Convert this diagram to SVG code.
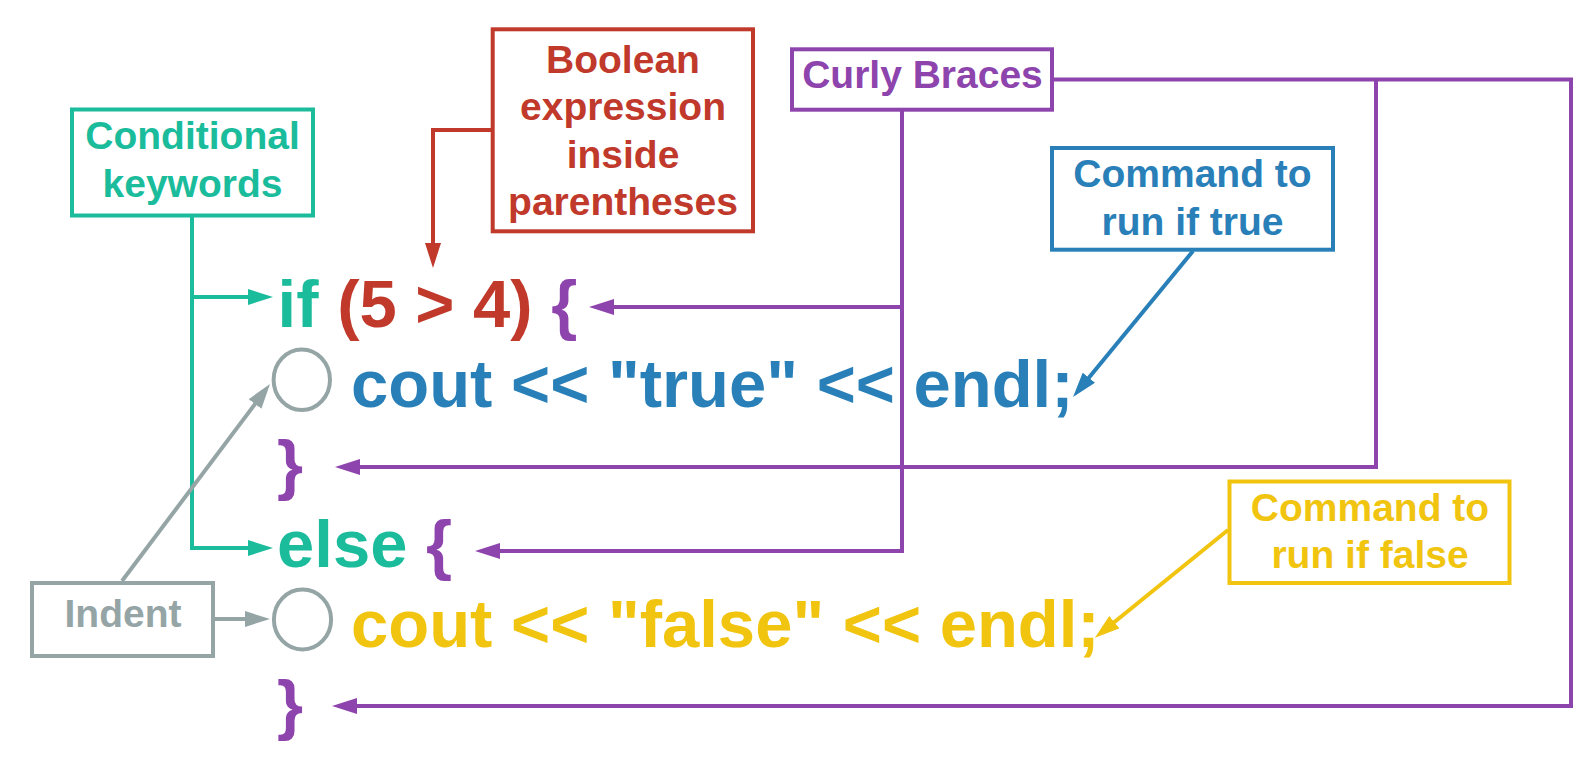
<svg xmlns="http://www.w3.org/2000/svg" width="1596" height="777" viewBox="0 0 1596 777">
<style>
.box{fill:#fff;stroke-width:4}
.lbl{font-family:"Liberation Sans",Arial,sans-serif;font-weight:bold;font-size:39px;text-anchor:middle}
.code{font-family:"Liberation Sans",Arial,sans-serif;font-weight:bold;font-size:67px}
.con{fill:none;stroke-width:4}
.ind{fill:none;stroke:#95a5a6;stroke-width:4}
.green{fill:#1abc9c}.red{fill:#c0392b}.purple{fill:#8e44ad}.blue{fill:#2980b9}.yellow{fill:#f1c40f}.gray{fill:#95a5a6}
</style>
<defs>
<marker id="ah-green" viewBox="0 0 25 16" refX="3" refY="8" markerWidth="25" markerHeight="16" markerUnits="userSpaceOnUse" orient="auto"><path d="M0,0 L25,8 L0,16 z" fill="#1abc9c"/></marker>
<marker id="ah-red" viewBox="0 0 25 16" refX="3" refY="8" markerWidth="25" markerHeight="16" markerUnits="userSpaceOnUse" orient="auto"><path d="M0,0 L25,8 L0,16 z" fill="#c0392b"/></marker>
<marker id="ah-purple" viewBox="0 0 25 16" refX="3" refY="8" markerWidth="25" markerHeight="16" markerUnits="userSpaceOnUse" orient="auto"><path d="M0,0 L25,8 L0,16 z" fill="#8e44ad"/></marker>
<marker id="ah-blue" viewBox="0 0 25 16" refX="3" refY="8" markerWidth="25" markerHeight="16" markerUnits="userSpaceOnUse" orient="auto"><path d="M0,0 L25,8 L0,16 z" fill="#2980b9"/></marker>
<marker id="ah-yellow" viewBox="0 0 25 16" refX="3" refY="8" markerWidth="25" markerHeight="16" markerUnits="userSpaceOnUse" orient="auto"><path d="M0,0 L25,8 L0,16 z" fill="#f1c40f"/></marker>
<marker id="ah-gray" viewBox="0 0 25 16" refX="3" refY="8" markerWidth="25" markerHeight="16" markerUnits="userSpaceOnUse" orient="auto"><path d="M0,0 L25,8 L0,16 z" fill="#95a5a6"/></marker>
</defs>
<rect width="1596" height="777" fill="#fff"/>

<g id="connectors">
<path class="con" stroke="#1abc9c" d="M192,217 V548 H251" marker-end="url(#ah-green)"/>
<path class="con" stroke="#1abc9c" d="M192,297 H251" marker-end="url(#ah-green)"/>
<path class="con" stroke="#c0392b" d="M493,130 H433 V246" marker-end="url(#ah-red)"/>
<path class="con" stroke="#8e44ad" d="M902,110 V551 H497" marker-end="url(#ah-purple)"/>
<path class="con" stroke="#8e44ad" d="M902,307 H611" marker-end="url(#ah-purple)"/>
<path class="con" stroke="#8e44ad" d="M1052,79.5 H1571 V706 H354" marker-end="url(#ah-purple)"/>
<path class="con" stroke="#8e44ad" d="M1376,79.5 V467 H357" marker-end="url(#ah-purple)"/>
<path class="con" stroke="#2980b9" d="M1193,251 L1087,380" marker-end="url(#ah-blue)"/>
<path class="con" stroke="#f1c40f" d="M1228,530 L1112,624" marker-end="url(#ah-yellow)"/>
<path class="con" stroke="#95a5a6" d="M122,581 L256.8,401.6" marker-end="url(#ah-gray)"/>
<path class="con" stroke="#95a5a6" d="M213,619 H248" marker-end="url(#ah-gray)"/>
</g>

<g id="conditional-keywords">
<rect class="box" stroke="#1abc9c" x="72" y="109.5" width="241" height="106"/>
<text class="lbl green" x="192.5" y="149.3">Conditional</text>
<text class="lbl green" x="192.5" y="197.3">keywords</text>
</g>

<g id="boolean-expression">
<rect class="box" stroke="#c0392b" x="492.7" y="29.3" width="260.3" height="202"/>
<text class="lbl red" x="623" y="73.3">Boolean</text>
<text class="lbl red" x="623" y="120.3">expression</text>
<text class="lbl red" x="623" y="167.7">inside</text>
<text class="lbl red" x="623" y="215">parentheses</text>
</g>

<g id="curly-braces">
<rect class="box" stroke="#8e44ad" x="792" y="49.3" width="260" height="60.4"/>
<text class="lbl purple" x="922.5" y="88.3">Curly Braces</text>
</g>

<g id="command-true">
<rect class="box" stroke="#2980b9" x="1052" y="148" width="281" height="101.7"/>
<text class="lbl blue" x="1192.5" y="186.7">Command to</text>
<text class="lbl blue" x="1192.5" y="235">run if true</text>
</g>

<g id="command-false">
<rect class="box" stroke="#f1c40f" x="1229.5" y="481.5" width="280" height="101.5"/>
<text class="lbl yellow" x="1370" y="520.7">Command to</text>
<text class="lbl yellow" x="1370" y="568.3">run if false</text>
</g>

<g id="indent">
<rect class="box" stroke="#95a5a6" x="32" y="583" width="181" height="73"/>
<text class="lbl gray" x="123" y="627.3">Indent</text>
</g>

<g id="indent-marks">
<ellipse class="ind" cx="301.8" cy="379.7" rx="28.2" ry="30.3"/>
<ellipse class="ind" cx="302.5" cy="619.5" rx="28.6" ry="30"/>
</g>

<g id="code">
<text class="code" x="277.6" y="327"><tspan class="green">if </tspan><tspan class="red">(5 &gt; 4)</tspan><tspan class="purple"> {</tspan></text>
<text class="code blue" x="351" y="407">cout &lt;&lt; "true" &lt;&lt; endl;</text>
<text class="code purple" x="277" y="487">}</text>
<text class="code" x="277" y="567"><tspan class="green">else</tspan><tspan class="purple"> {</tspan></text>
<text class="code yellow" x="351" y="647">cout &lt;&lt; "false" &lt;&lt; endl;</text>
<text class="code purple" x="277" y="727">}</text>
</g>
</svg>
